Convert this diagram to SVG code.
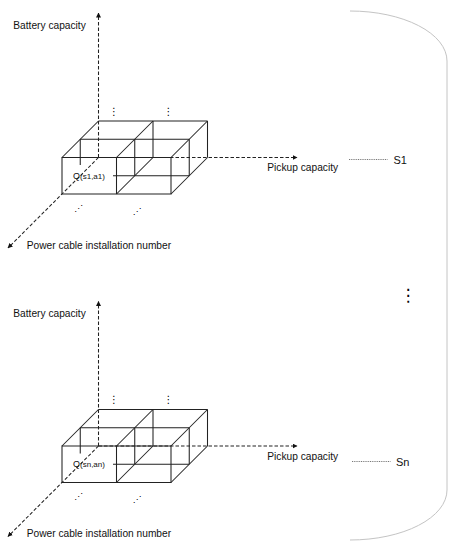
<svg xmlns="http://www.w3.org/2000/svg" xmlns:xlink="http://www.w3.org/1999/xlink" width="457" height="550" viewBox="0 0 457 550">
<style>
.edge{stroke:#222;stroke-width:1.05;fill:none}
.axis{stroke:#222;stroke-width:1.05;fill:none;stroke-dasharray:3.5,2}
.lbl{font-family:"Liberation Sans",Arial,sans-serif;font-size:10.2px;fill:#111}
.q{font-family:"Liberation Sans",Arial,sans-serif;font-size:8px;fill:#111}
.dots{font-family:"DejaVu Sans",sans-serif;font-size:10px;fill:#000}
.lead{stroke:#555;stroke-width:0.8;stroke-dasharray:1,0.8;fill:none}
.s{font-family:"Liberation Sans",Arial,sans-serif;font-size:11px;fill:#111}
</style>
<defs>
<marker id="ah" viewBox="0 0 10 10" refX="9" refY="5" markerWidth="5" markerHeight="5" orient="auto" markerUnits="userSpaceOnUse">
<path d="M0,0 L10,5 L0,10 z" fill="#111"/>
</marker>
<g id="grid">
<g id="axes">
<line class="axis" x1="98.5" y1="157.5" x2="98.5" y2="13" marker-end="url(#ah)"/>
<line class="axis" x1="98.5" y1="157.5" x2="297" y2="157.5" marker-end="url(#ah)"/>
<line class="axis" x1="98.5" y1="157.5" x2="8" y2="248" marker-end="url(#ah)"/>
</g>
<g id="cube">
<path class="edge" d="M98.5,121 H207.5 M153,121 V157.5 M207.5,121 V157.5"/>
<path class="edge" d="M80.25,139.25 H189.25 M80.25,139.25 V165 M134.75,139.25 V175.75 M189.25,139.25 V175.75 M113,175.75 H189.25"/>
<path class="edge" d="M62,157.5 H171 V194 H62 Z M116.5,157.5 V194"/>
<path class="edge" d="M98.5,121 L62,157.5 M153,121 L116.5,157.5 M207.5,121 L171,157.5 M153,157.5 L116.5,194 M207.5,157.5 L171,194"/>
</g>
<text class="dots" x="114" y="114.5" text-anchor="middle">⋮</text>
<text class="dots" x="168.5" y="114.5" text-anchor="middle">⋮</text>
<text class="dots" x="78.5" y="210.5" text-anchor="middle" style="font-size:8.5px">⋰</text>
<text class="dots" x="137" y="213.5" text-anchor="middle" style="font-size:8.5px">⋰</text>
<text class="lbl" x="13.3" y="28.5">Battery capacity</text>
<text class="lbl" x="267.3" y="171">Pickup capacity</text>
<text class="lbl" x="26.7" y="248.5">Power cable installation number</text>
</g>
</defs>
<g id="block-s1">
<use xlink:href="#grid"/>
<text class="q" x="73" y="178.5"><tspan style="font-size:9px">Q</tspan>(s1,a1)</text>
<line class="lead" x1="349" y1="159.5" x2="387.5" y2="159.5"/>
<text class="s" x="393.5" y="164">S1</text>
</g>
<g id="block-sn">
<use xlink:href="#grid" y="288.5"/>
<text class="q" x="73" y="467"><tspan style="font-size:9px">Q</tspan>(sn,an)</text>
<line class="lead" x1="352" y1="461.5" x2="390.5" y2="461.5"/>
<text class="s" x="396" y="466">Sn</text>
</g>
<g id="vdots">
<text class="dots" x="408" y="301" text-anchor="middle" style="font-size:17px">⋮</text>
</g>
<g id="bracket">
<path d="M350,11 A97,50 0 0 1 447,61 V490 A97,50 0 0 1 350,540" fill="none" stroke="#c4c4c4" stroke-width="1"/>
</g>
</svg>
